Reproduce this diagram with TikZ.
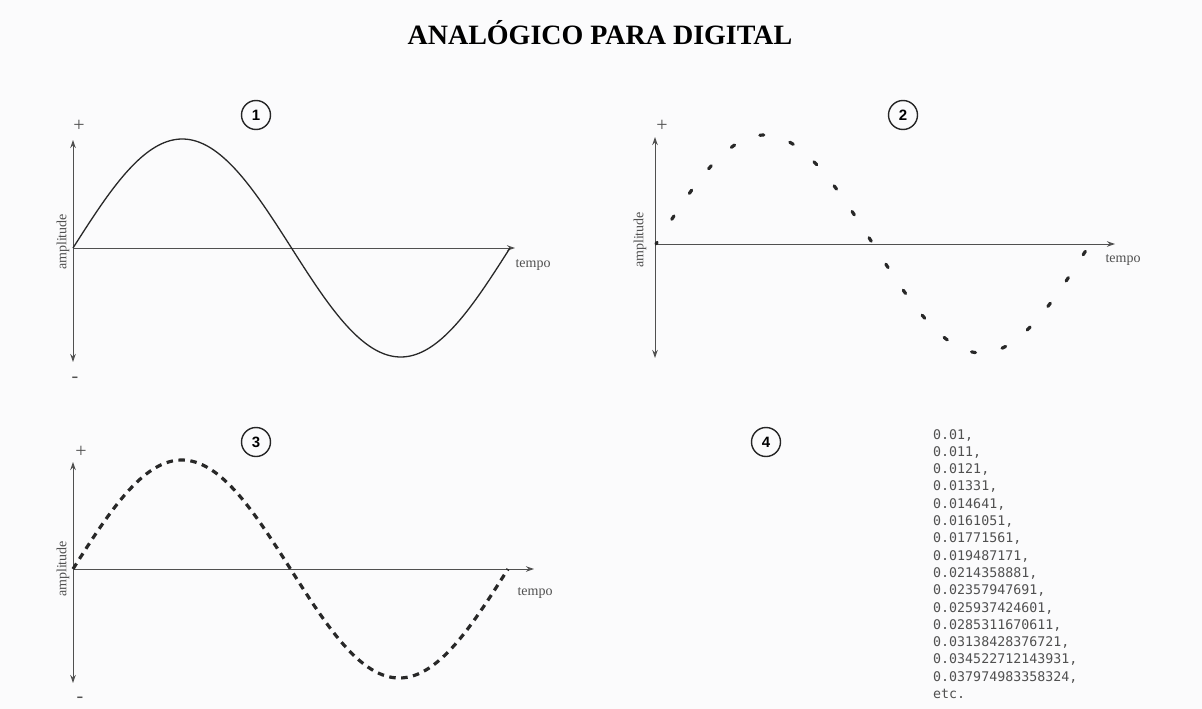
\documentclass[tikz,border=0pt]{standalone}
\usepackage{fontspec}
\setmainfont{Liberation Serif}
\setmonofont{DejaVu Sans Mono}
\newfontfamily\digitfont{Liberation Sans}
\usetikzlibrary{arrows.meta}
\definecolor{paper}{RGB}{251,251,252}
\definecolor{axisgray}{RGB}{80,80,80}
\definecolor{wavegray}{RGB}{40,40,40}
\definecolor{textgray}{RGB}{80,80,80}

\begin{document}
\begin{tikzpicture}[
    x=1pt, y=-1pt,
    >={Stealth[length=8pt,width=5.5pt]},
    axisline/.style={draw=axisgray, line width=1pt},
    wave/.style={draw=wavegray, line width=1.3pt},
    sampled/.style={wave, line width=3.2pt, line cap=round, dash pattern=on 4pt off 27.3pt, dash phase=2pt},
    dashedwave/.style={wave, line width=3.2pt, dash pattern=on 6.5pt off 5.5pt},
    axislabel/.style={text=textgray, inner sep=0pt, font=\fontsize{14}{16}\selectfont},
    signmark/.style={text=textgray, inner sep=0pt, font=\fontsize{20}{20}\selectfont},
    badge/.style={circle, draw=black!85, line width=1.4pt, minimum size=29pt, inner sep=0pt, font=\digitfont\bfseries\fontsize{15}{17}\selectfont},
    values/.style={anchor=north west, align=left, inner sep=0pt, text=textgray, font=\ttfamily\fontsize{13.3}{17.3}\selectfont}
]
\useasboundingbox (0,0) rectangle (1202,709);
\fill[paper] (0,0) rectangle (1202,709);

% Title
\node[font=\bfseries\fontsize{28}{30}\selectfont] (title) at (600,33) {ANALÓGICO PARA DIGITAL};

% Panel 1: analog signal
\coordinate (o1) at (73,248);
\coordinate (top1) at (73,140);
\coordinate (bot1) at (73,362);
\coordinate (end1) at (515,248);
\draw[axisline, <->] (top1) -- (bot1);
\draw[axisline, ->] (o1) -- (end1);
\node[signmark] (plus1) at (79,126) {+};
\node[signmark] (minus1) at (75,380) {-};
\node[axislabel, rotate=90] (amp1) at (63,242) {amplitude};
\node[axislabel] (time1) at (533,265) {tempo};
\node[badge] (badge1) at (256,115) {1};
\draw[wave] plot[domain=0:437, samples=150, smooth] ({73+\x},{248-109*sin(\x/437*360)});

% Panel 2: sampled signal
\coordinate (o2) at (655,244);
\coordinate (top2) at (655,137);
\coordinate (bot2) at (655,358);
\coordinate (end2) at (1115,244);
\draw[axisline, <->] (top2) -- (bot2);
\draw[axisline, ->] (o2) -- (end2);
\node[signmark] (plus2) at (662,126) {+};
\node[axislabel, rotate=90] (amp2) at (640,240) {amplitude};
\node[axislabel] (time2) at (1123,260) {tempo};
\node[badge] (badge2) at (903,115) {2};
\draw[sampled] plot[domain=0:434, samples=200, smooth] ({656+\x},{244-109*sin(\x/434*360)});

% Panel 3: quantized signal
\coordinate (o3) at (73,569);
\coordinate (top3) at (73,462);
\coordinate (bot3) at (73,683);
\coordinate (end3) at (534,569);
\draw[axisline, <->] (top3) -- (bot3);
\draw[axisline, ->] (o3) -- (end3);
\node[signmark] (plus3) at (81,452) {+};
\node[signmark] (minus3) at (80,700) {-};
\node[axislabel, rotate=90] (amp3) at (63,569) {amplitude};
\node[axislabel] (time3) at (535,593) {tempo};
\node[badge] (badge3) at (256,442) {3};
\draw[dashedwave] plot[domain=0:435, samples=150, smooth] ({73+\x},{569-109*sin(\x/435*360)});

% Panel 4: digital values
\node[badge] (badge4) at (766,442) {4};
\node[values] (samples) at (933,429) {0.01,\\0.011,\\0.0121,\\0.01331,\\0.014641,\\0.0161051,\\0.01771561,\\0.019487171,\\0.0214358881,\\0.02357947691,\\0.025937424601,\\0.0285311670611,\\0.03138428376721,\\0.034522712143931,\\0.037974983358324,\\etc.};

\end{tikzpicture}
\end{document}
